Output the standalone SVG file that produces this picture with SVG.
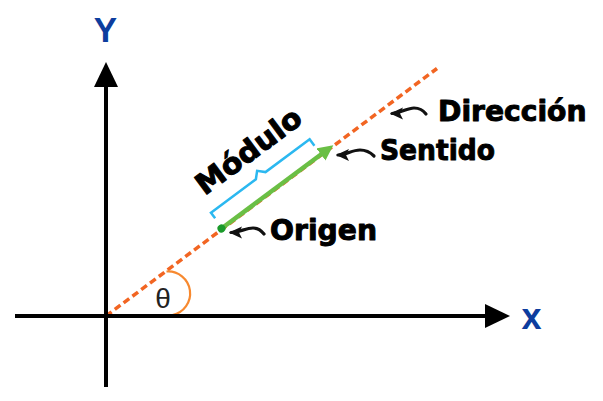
<svg xmlns="http://www.w3.org/2000/svg" width="603" height="401" viewBox="0 0 603 401">
<style>
.axis{stroke:#000;stroke-width:4;fill:none}
.lbl{font-family:"DejaVu Sans",sans-serif;font-weight:bold;fill:#000;stroke:#000;stroke-width:1;stroke-linejoin:round}
.axlbl{font-family:"Liberation Sans",Arial,sans-serif;font-weight:bold;fill:#0d3d9e}
.ptr{stroke:#111;stroke-width:3.2;fill:none;stroke-linecap:round}
</style>
<defs>
<marker id="axhead" markerUnits="userSpaceOnUse" viewBox="0 0 25 24" markerWidth="25" markerHeight="24" refX="2" refY="12" orient="auto">
<path d="M0,0 L25,12 L0,24 z" fill="#000"/>
</marker>
<marker id="ptrhead" markerUnits="userSpaceOnUse" viewBox="0 0 13 13" markerWidth="13" markerHeight="13" refX="11" refY="6.5" orient="auto-start-reverse">
<path d="M0,0.5 L13,6.5 L0,12.5 L3,6.5 z" fill="#111"/>
</marker>
<marker id="vhead" markerUnits="userSpaceOnUse" viewBox="0 0 16 16" markerWidth="16" markerHeight="16" refX="2" refY="8" orient="auto">
<path d="M0,0.5 L15.4,8 L0,15.5 z" fill="#6abf45"/>
</marker>
</defs>
<rect width="603" height="401" fill="#fff"/>
<g id="connectors">
<line id="direction-line" x1="106" y1="316" x2="437" y2="68.5" stroke="#f26522" stroke-width="3.5" stroke-dasharray="7 4"/>
<path id="theta-arc" d="M166.5,271.5 A22,22 0 0 1 172.5,315" fill="none" stroke="#f7892f" stroke-width="2.2"/>
<line id="x-axis" class="axis" x1="15" y1="316" x2="487" y2="316" marker-end="url(#axhead)"/>
<line id="y-axis" class="axis" x1="106" y1="387" x2="106" y2="85" marker-end="url(#axhead)"/>
<path class="ptr" d="M392,113.5 C400,113.5 407,108 414,108 C420,108 423,110 426,114" marker-start="url(#ptrhead)"/>
<path class="ptr" d="M338,155 C346,155 352,150 360,150 C366,150 370,152 374,156" marker-start="url(#ptrhead)"/>
<path class="ptr" d="M231,232.5 C239,232.5 246,228 253,228 C258,228 261,230 264,234" marker-start="url(#ptrhead)"/>
</g>
<g id="vector" transform="translate(221.5,228.5) rotate(-36.65)">
<line x1="0" y1="0" x2="126" y2="0" stroke="#6abf45" stroke-width="4.5" marker-end="url(#vhead)"/>
<circle cx="0" cy="0" r="4" fill="#1a9a2a"/>
<path id="modulo-bracket" d="M1,-12 L1,-19 L57,-19 L63,-25 L69,-19 L124,-19 L124,-11" fill="none" stroke="#2bb8f0" stroke-width="2.5"/>
<text id="modulo" class="lbl" x="6" y="-36" font-size="29" textLength="124" lengthAdjust="spacingAndGlyphs">Módulo</text>
</g>
<g id="label-y"><text class="axlbl" x="105.5" y="41.7" font-size="35" text-anchor="middle">Y</text></g>
<g id="label-x"><text class="axlbl" x="521.5" y="329" font-size="36">x</text></g>
<g id="label-theta"><text x="163" y="308" font-family="Liberation Sans, Arial, sans-serif" font-size="28" fill="#222" text-anchor="middle">θ</text></g>
<g id="label-direccion"><text class="lbl" x="438" y="120.7" font-size="28.5" textLength="148.5" lengthAdjust="spacingAndGlyphs">Dirección</text></g>
<g id="label-sentido"><text class="lbl" x="380" y="160" font-size="29" textLength="115" lengthAdjust="spacingAndGlyphs">Sentido</text></g>
<g id="label-origen"><text class="lbl" x="270" y="240" font-size="29" textLength="107" lengthAdjust="spacingAndGlyphs">Origen</text></g>
</svg>
